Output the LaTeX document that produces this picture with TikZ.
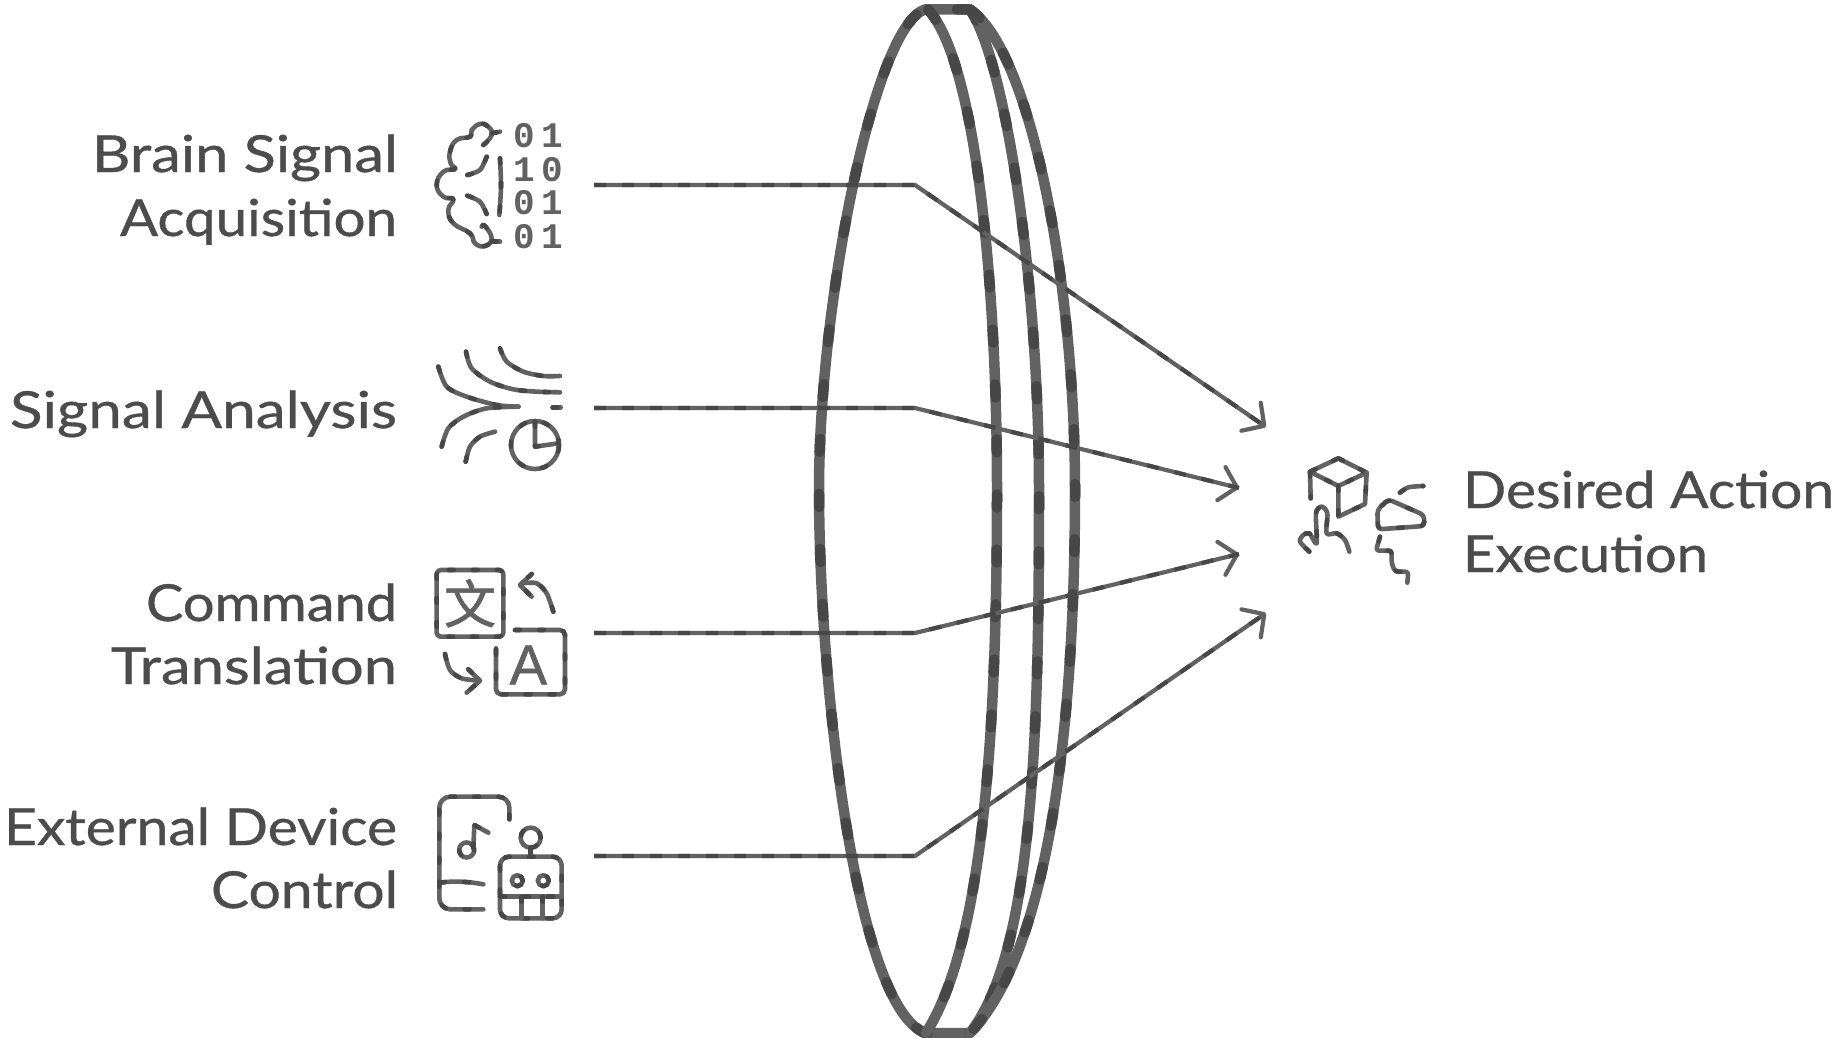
\documentclass[tikz,border=0pt]{standalone}
\usepackage{fontspec}
\usepackage{graphicx}
\usetikzlibrary{arrows.meta}
\setmainfont{Lato}[FakeBold=0.7,BoldFont={Lato},AutoFakeBold=0.7]
\newfontfamily\cjkfont{Noto Sans CJK SC}[AutoFakeBold=1.2]
\newfontfamily\letterfont{Liberation Sans}[AutoFakeBold=1.0]
\newfontfamily\digitfont{Liberation Mono}[BoldFont={Liberation Mono Bold}]
\definecolor{inkmain}{HTML}{626262}
\definecolor{inkdark}{HTML}{474747}
\definecolor{labelink}{HTML}{4c4c4c}
\newcommand{\fitline}[2]{\resizebox{#1pt}{\height}{#2}}
\tikzset{
  ink/.style={draw=inkmain,line width=4.6pt,line cap=round,line join=round,
    postaction={draw=inkdark,-,dash pattern=on 5pt off 19pt}},
  lensline/.style={draw=inkmain,line width=10.5pt,line cap=round,line join=round,
    postaction={draw=inkdark,-,dash pattern=on 13pt off 42pt}},
  connector/.style={draw=inkmain,line width=4.2pt,line join=miter,
    -{Straight Barb[length=16pt,width=34pt,line width=4.2pt,round]},
    postaction={draw=inkdark,-,dash pattern=on 12pt off 16pt}},
  labeltext/.style={font=\fontsize{51}{64}\selectfont\bfseries,text=labelink,inner sep=0pt,outer sep=0pt},
  digits/.style={font=\digitfont\bfseries\fontsize{36}{36}\selectfont,text=inkmain,inner sep=0pt,anchor=base},
  iconscope/.style={x=0.33333pt,y=-0.33333pt}
}
\begin{document}
\begin{tikzpicture}[x=1pt,y=-1pt]
\useasboundingbox[fill=white] (0,0) rectangle (1837,1038);

% Lens
\path[lensline] (970,9.5) -- (925,9.5) .. controls (875,25) and (819,300) .. (819,490) .. controls (819,680) and (855,1005) .. (925,1033) -- (970,1033);
\path[lensline] (928,9.5) .. controls (975,60) and (997,280) .. (997,490) .. controls (997,720) and (985,940) .. (926,1033);
\path[lensline] (970,9.5) .. controls (1005,60) and (1039,280) .. (1039,490) .. controls (1039,720) and (1035,950) .. (970,1033);
\path[lensline] (970,9.5) .. controls (1030,50) and (1075,280) .. (1075,490) .. controls (1075,720) and (1050,950) .. (970,1033);

% Connectors
\coordinate (s1) at (594,185); \coordinate (e1) at (915,185); \coordinate (h1) at (1266,427);
\coordinate (s2) at (594,408); \coordinate (e2) at (915,408); \coordinate (h2) at (1239,488);
\coordinate (s3) at (594,633); \coordinate (e3) at (915,633); \coordinate (h3) at (1239,554);
\coordinate (s4) at (594,856); \coordinate (e4) at (915,856); \coordinate (h4) at (1266,613);
\path[connector] (s1) -- (e1) -- (h1);
\path[connector] (s2) -- (e2) -- (h2);
\path[connector] (s3) -- (e3) -- (h3);
\path[connector] (s4) -- (e4) -- (h4);

% Labels
\node[labeltext,anchor=base east] (lab1a) at (398,172) {\fitline{306}{Brain Signal}};
\node[labeltext,anchor=base east] (lab1b) at (397,236) {\fitline{277}{Acquisition}};
\node[labeltext,anchor=base east] (lab2) at (397,428) {\fitline{387}{Signal Analysis}};
\node[labeltext,anchor=base east] (lab3a) at (397,621) {\fitline{251}{Command}};
\node[labeltext,anchor=base east] (lab3b) at (397,684) {\fitline{286}{Translation}};
\node[labeltext,anchor=base east] (lab4a) at (397,845) {\fitline{393}{External Device}};
\node[labeltext,anchor=base east] (lab4b) at (398,908) {\fitline{187}{Control}};
\node[labeltext,anchor=base west] (lab5a) at (1463,508) {\fitline{371}{Desired Action}};
\node[labeltext,anchor=base west] (lab5b) at (1463,572) {\fitline{245}{Execution}};

% Brain icon
\begin{scope}[shift={(420,100)},iconscope]
\path[ink] plot[smooth,tension=0.8] coordinates {(190,135) (215,105) (205,80) (180,72) (155,90) (150,110) (110,120) (90,155) (92,190) (105,207) (70,215) (50,255) (70,290) (100,298) (85,330) (100,370) (150,400) (165,430) (195,438) (215,415) (195,378) (185,380)};
\path[ink] (215,100) -- (240,95);
\path[ink] (215,425) -- (240,425);
\path[ink] plot[smooth] coordinates {(200,170) (180,210) (142,225)};
\path[ink] plot[smooth] coordinates {(142,287) (180,305) (200,342)};
\path[ink] plot[smooth] coordinates {(240,175) (243,260) (238,345)};
\node[digits] (d1) at (355,142) {0\hspace{6pt}1};
\node[digits] (d2) at (355,245) {1\hspace{6pt}0};
\node[digits] (d3) at (355,345) {0\hspace{6pt}1};
\node[digits] (d4) at (355,445) {0\hspace{6pt}1};
% Signal icon
\path[ink] plot[smooth] coordinates {(55,800) (80,860) (140,890) (230,915) (295,920)};
\path[ink] plot[smooth] coordinates {(65,1040) (85,985) (130,950) (200,925) (295,920)};
\path[ink] plot[smooth] coordinates {(138,755) (155,805) (210,845) (280,868) (350,875) (420,877)};
\path[ink] plot[smooth] coordinates {(240,745) (260,785) (310,815) (370,828) (420,828)};
\path[ink] (398,922) -- (422,922);
\path[ink] plot[smooth] coordinates {(137,1085) (150,1040) (180,1010) (225,995)};
\path[ink] (345,1035) circle[radius=24pt];
\path[ink] (345,965) -- (345,1040) -- (415,1030);
\end{scope}

% Translate icon and device icon
\begin{scope}[shift={(420,550)},iconscope]
\path[ink,rounded corners=4pt] (50,60) rectangle (250,260);
\node[font=\cjkfont\bfseries\fontsize{52}{52}\selectfont,text=inkmain,inner sep=0pt] (zi) at (150,160) {文};
\path[ink] plot[smooth] coordinates {(400,185) (380,130) (350,100) (305,100)};
\path[ink] (335,72) -- (300,105) -- (335,140);
\path[ink,rounded corners=5pt] (285,240) -- (435,240) -- (435,433) -- (228,433) -- (228,295);
\node[font=\letterfont\bfseries\fontsize{56}{56}\selectfont,text=inkmain,inner sep=0pt] (aa) at (325,345) {A};
\path[ink] plot[smooth] coordinates {(75,312) (90,360) (125,385) (178,392)};
\path[ink] (145,358) -- (180,392) -- (140,428);

\path[ink,rounded corners=11pt] (268,808) -- (268,740) -- (58,740) -- (58,1078) -- (190,1078);
\path[ink] (60,998) .. controls (100,992) and (150,995) .. (190,1003);
\path[ink] (140,900) circle[radius=7.5pt];
\path[ink] (160,895) -- (163,825) -- (205,848);
\path[ink] (332,863) circle[radius=10pt];
\path[ink] (332,893) -- (332,918);
\path[ink,rounded corners=9pt] (240,920) rectangle (425,1105);
\path[ink] (292,992) circle[radius=5.5pt];
\path[ink] (370,992) circle[radius=5.5pt];
\path[ink] (240,1040) -- (425,1040);
\path[ink] (305,1040) -- (305,1105);
\path[ink] (368,1040) -- (368,1105);
\end{scope}

% Action icon
\begin{scope}[shift={(1220,400)},iconscope]
\path[ink] (355,175) -- (440,218) -- (355,258) -- (270,215) -- cycle;
\path[ink] (270,215) -- (272,295);
\path[ink] (355,258) -- (355,350) -- (435,312) -- (440,218);
\path[ink] plot[smooth,tension=0.5] coordinates {(268,455) (240,425) (250,405) (268,400) (290,430) (288,340) (305,320) (322,340) (320,400) (350,400) (375,420) (388,455)};
\path[ink,rounded corners=4pt] (505,298) -- (472,330) -- (474,388) -- (613,378) -- (612,345) -- cycle;
\path[ink] plot[smooth] coordinates {(540,278) (565,262) (610,258)};
\path[ink,rounded corners=3pt] (480,410) -- (468,452) -- (515,452) -- (515,490) -- (525,515) -- (565,515) -- (562,548);
\end{scope}
\end{tikzpicture}
\end{document}
